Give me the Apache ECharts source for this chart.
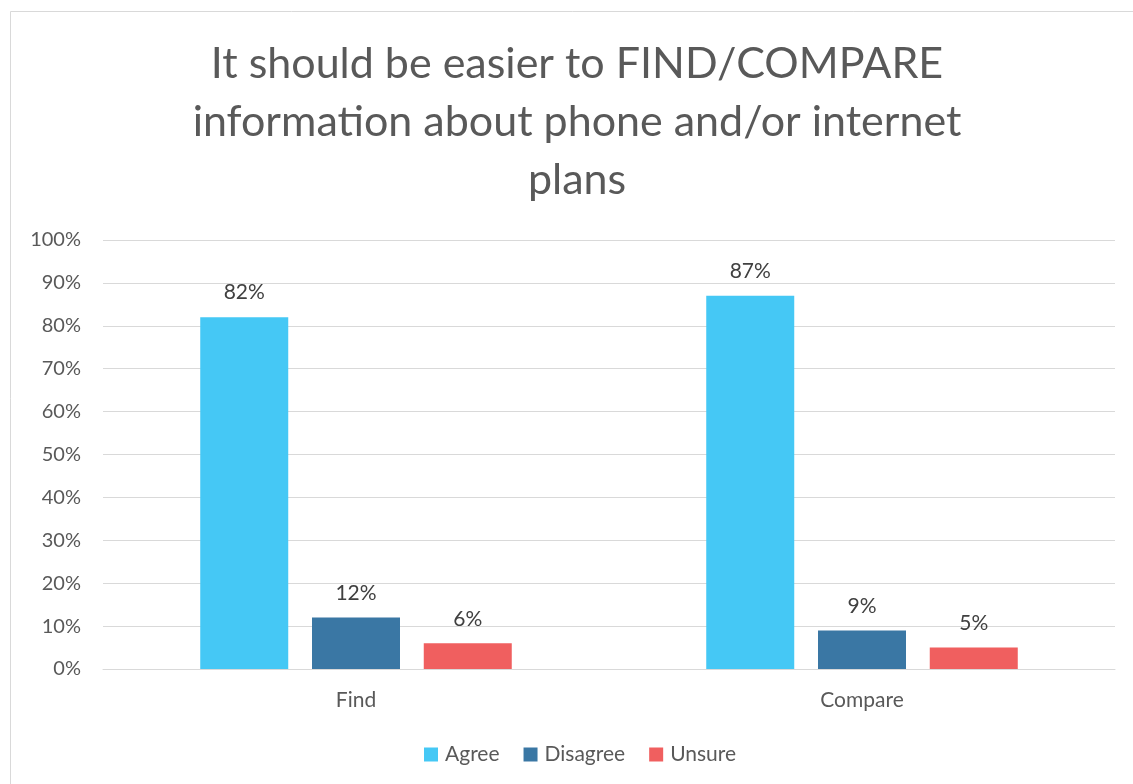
<!DOCTYPE html>
<html>
<head>
<meta charset="utf-8">
<script src="https://cdn.jsdelivr.net/npm/echarts@6/dist/echarts.min.js"></script>
<style>
  html, body { margin: 0; padding: 0; background: #fff; }
  #chart { width: 1133px; height: 784px; }
</style>
</head>
<body>
<div id="chart"></div>
<script>
// Survey responses by question
const categories = ['Find', 'Compare'];
const agree = [82, 87];
const disagree = [12, 9];
const unsure = [6, 5];
const yTicks = [0, 10, 20, 30, 40, 50, 60, 70, 80, 90, 100];

const FONT = 'Lato, "Open Sans", sans-serif';
const TEXT = '#595959';

const chart = echarts.init(document.getElementById('chart'), null, { renderer: 'canvas' });

function barSeries(name, data, color) {
  return {
    name: name,
    type: 'bar',
    data: data,
    barWidth: 88,
    barGap: '27%',
    itemStyle: { color: color },
    label: {
      show: true,
      position: 'top',
      distance: 14,
      formatter: '{c}%',
      color: '#404040',
      fontFamily: FONT,
      fontSize: 21
    }
  };
}

chart.setOption({
  animation: false,
  backgroundColor: '#fff',
  graphic: [{
    type: 'rect',
    shape: { x: 10.5, y: 11.5, width: 1200, height: 900 },
    style: { fill: 'none', stroke: '#d9d9d9', lineWidth: 1 },
    z: -1
  }],
  title: {
    text: 'It should be easier to FIND/COMPARE\ninformation about phone and/or internet\nplans',
    left: 577,
    textAlign: 'center',
    top: 35,
    padding: 0,
    textStyle: {
      fontFamily: FONT,
      fontWeight: 'normal',
      fontSize: 43,
      lineHeight: 58,
      color: TEXT
    }
  },
  grid: { left: 103, right: 18, top: 240, bottom: 115 },
  legend: {
    bottom: 14,
    left: 419,
    itemWidth: 14,
    itemHeight: 14,
    itemGap: 24,
    icon: 'rect',
    textStyle: { fontFamily: FONT, fontSize: 21, color: TEXT, padding: [0, 0, 0, 2] },
    data: ['Agree', 'Disagree', 'Unsure']
  },
  xAxis: {
    type: 'category',
    data: categories,
    axisLine: { show: true, lineStyle: { color: '#d9d9d9', width: 1 } },
    axisTick: { show: false },
    axisLabel: { fontFamily: FONT, fontSize: 21, color: TEXT, margin: 21 }
  },
  yAxis: {
    type: 'value',
    min: yTicks[0],
    max: yTicks[yTicks.length - 1],
    interval: 10,
    axisLine: { show: false },
    axisTick: { show: false },
    splitLine: { lineStyle: { color: '#d9d9d9', width: 1 } },
    axisLabel: { fontFamily: FONT, fontSize: 20, color: TEXT, margin: 22, formatter: '{value}%' }
  },
  series: [
    barSeries('Agree', agree, '#45C8F5'),
    barSeries('Disagree', disagree, '#3A77A4'),
    barSeries('Unsure', unsure, '#F05F5F')
  ]
});
</script>
</body>
</html>
